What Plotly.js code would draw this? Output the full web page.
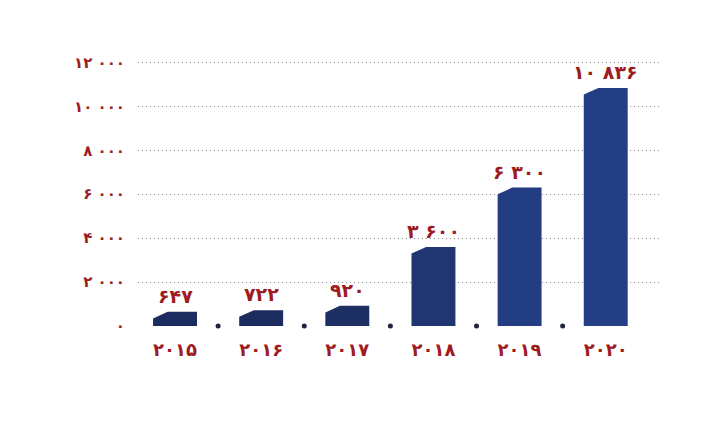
<!DOCTYPE html>
<html>
<head>
<meta charset="utf-8">
<script src="https://cdn.plot.ly/plotly-3.0.1.min.js"></script>
<style>html,body{margin:0;padding:0;background:#fff;}#chart{width:719px;height:431px;}</style>
</head>
<body>
<div id="chart"></div>
<script>
const years = ["۲۰۱۵","۲۰۱۶","۲۰۱۷","۲۰۱۸","۲۰۱۹","۲۰۲۰"];
const values = [647, 722, 920, 3600, 6300, 10836];
const valueLabels = ["۶۴۷","۷۲۲","۹۲۰","۳ ۶۰۰","۶ ۳۰۰","۱۰ ۸۳۶"];
const barColors = ["#1d2c5e","#1d2c5e","#1e2f64","#1f3672","#233d82","#243e86"];
const yTickVals = [0, 2000, 4000, 6000, 8000, 10000, 12000];
const yTickText = ["۰","۲ ۰۰۰","۴ ۰۰۰","۶ ۰۰۰","۸ ۰۰۰","۱۰ ۰۰۰","۱۲ ۰۰۰"];

const red = "#9e1c1f";
const font = "DejaVu Sans, Noto Sans, sans-serif";
const halfW = 0.255, slantX = 0.17, slantY = 300;

const traces = [];
values.forEach((v, i) => {
  traces.push({
    type: "scatter", mode: "lines", fill: "toself",
    x: [i - halfW, i - halfW, i - halfW + slantX, i + halfW, i + halfW, i - halfW],
    y: [0, v - slantY, v, v, 0, 0],
    line: {width: 0, color: barColors[i]}, fillcolor: barColors[i],
    hoverinfo: "skip", showlegend: false
  });
});
// separator dots on the baseline
traces.push({
  type: "scatter", mode: "markers",
  x: years.slice(1).map((_, i) => i + 0.5), y: years.slice(1).map(() => 0),
  marker: {size: 5, color: "#1d2440"}, cliponaxis: false, showlegend: false, hoverinfo: "skip"
});

const annotations = values.map((v, i) => ({
  x: i, y: v, xref: "x", yref: "y", text: valueLabels[i], showarrow: false,
  yanchor: "bottom", yshift: 3, font: {family: font, size: 19, color: red, weight: "bold"}
}));

const layout = {
  width: 719, height: 431,
  margin: {l: 138, r: 59, t: 58, b: 105},
  paper_bgcolor: "#fff", plot_bgcolor: "#fff",
  showlegend: false,
  xaxis: {
    range: [-0.43, 5.63], tickvals: [0,1,2,3,4,5], ticktext: years,
    showgrid: false, zeroline: false, showline: false, ticks: "",
    ticklabelstandoff: 11,
    tickfont: {family: font, size: 18, color: red, weight: "bold"}, fixedrange: true
  },
  yaxis: {
    range: [0, 12200], tickvals: yTickVals, ticktext: yTickText,
    showgrid: true, gridcolor: "#8a8a8a", griddash: "1px,3px", gridwidth: 1,
    zeroline: false, showline: false, ticks: "", ticklabelstandoff: 12,
    tickfont: {family: font, size: 15, color: red, weight: "bold"}, fixedrange: true
  },
  annotations: annotations
};

Plotly.newPlot("chart", traces, layout, {displayModeBar: false, staticPlot: true});
</script>
</body>
</html>
